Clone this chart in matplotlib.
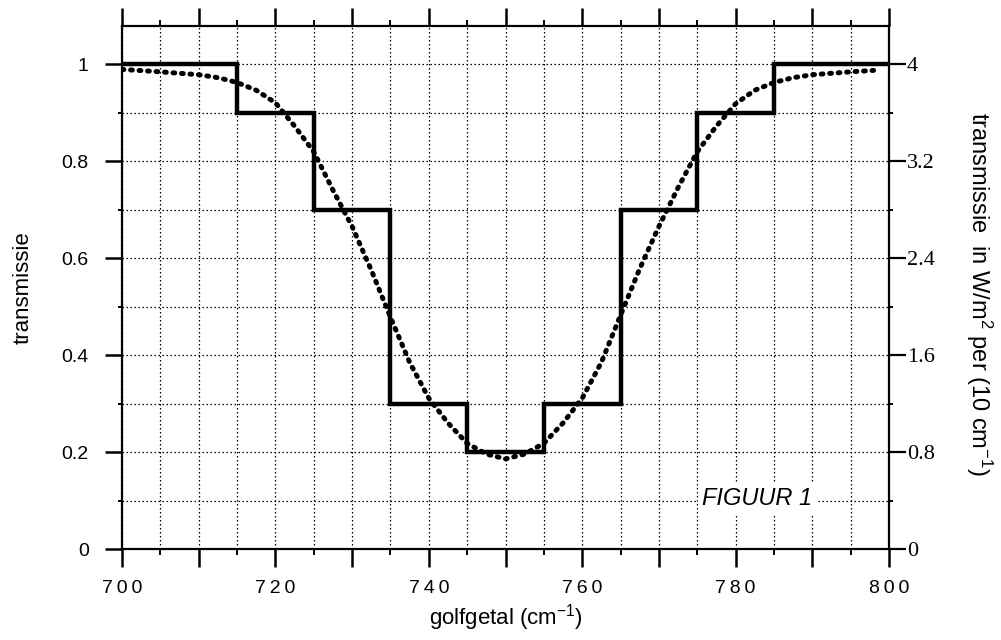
import matplotlib
matplotlib.use("Agg")
import matplotlib.pyplot as plt
from matplotlib.ticker import MultipleLocator

plt.rcParams['font.family'] = ['Liberation Sans', 'DejaVu Sans']
plt.rcParams['mathtext.fontset'] = 'custom'
plt.rcParams['mathtext.rm'] = 'Liberation Sans'
plt.rcParams['mathtext.it'] = 'Liberation Sans:italic'

# step function (band averages)
step_edges = [700, 715, 725, 735, 745, 755, 765, 775, 785, 800]
step_values = [1.0, 0.9, 0.7, 0.3, 0.2, 0.3, 0.7, 0.9, 1.0]

# continuous transmission curve
curve_x = [700, 705, 710, 712.5, 715, 717.5, 720, 722.5, 725, 727.5, 730, 732.5,
           735, 737.5, 740, 742.5, 745, 747.5, 750, 752.5, 755, 757.5, 760,
           762.5, 765, 767.5, 770, 772.5, 775, 777.5, 780, 782.5, 785, 787.5,
           790, 795, 798]
curve_y = [0.989, 0.984, 0.978, 0.972, 0.962, 0.946, 0.920, 0.872, 0.819, 0.740,
           0.665, 0.575, 0.478, 0.385, 0.311, 0.260, 0.218, 0.196, 0.186, 0.196,
           0.218, 0.260, 0.311, 0.385, 0.482, 0.578, 0.665, 0.745, 0.819, 0.872,
           0.918, 0.946, 0.962, 0.972, 0.978, 0.984, 0.987]

x_major_ticks = [700, 710, 720, 730, 740, 750, 760, 770, 780, 790, 800]
x_major_labels = ['7\u20090\u20090', '', '7\u20092\u20090', '', '7\u20094\u20090', '',
                  '7\u20096\u20090', '', '7\u20098\u20090', '', '8\u20090\u20090']
left_ticks = [0, 0.2, 0.4, 0.6, 0.8, 1]
left_labels = ['0', '0.2', '0.4', '0.6', '0.8', '1']
right_ticks = [0, 0.8, 1.6, 2.4, 3.2, 4]
right_labels = ['0', '0.8', '1.6', '2.4', '3.2', '4']

fig = plt.figure(figsize=(10.01, 6.40), dpi=100)
ax = fig.add_axes([0.122, 0.142, 0.766, 0.817])

ax.set_xlim(700, 800)
ax.set_ylim(0, 1.078)

ax.set_xticks(x_major_ticks)
ax.set_xticklabels(x_major_labels, fontfamily='Liberation Sans', fontsize=14)
ax.xaxis.set_minor_locator(MultipleLocator(5))
ax.set_yticks(left_ticks)
ax.set_yticklabels(left_labels, fontfamily='Liberation Sans', fontsize=14)
ax.yaxis.set_minor_locator(MultipleLocator(0.1))
ax.grid(which='both', color='black', linestyle=(0, (1.2, 2.0)), linewidth=0.9)
ax.set_axisbelow(True)

ax.stairs(step_values, step_edges, color='black', linewidth=3.2, baseline=None, zorder=3)
ax.plot(curve_x, curve_y, color='black', linewidth=3.6,
        linestyle=(0, (0.35, 1.35)), dash_capstyle='round', zorder=4)

for s in ax.spines.values():
    s.set_linewidth(1.6)

ax.tick_params(which='major', axis='x', direction='out', length=13, width=1.8,
               top=True, pad=9)
ax.tick_params(which='minor', axis='x', direction='out', length=4, width=1.4, top=True)
ax.tick_params(which='major', axis='y', direction='out', length=12, width=1.8, pad=12)
ax.tick_params(which='minor', axis='y', direction='out', length=3, width=1.4)

ax.set_ylabel('transmissie', fontsize=16, labelpad=20)
ax.set_xlabel('golfgetal (cm$^{-1}$)', fontsize=16, labelpad=4)

ax2 = ax.twinx()
ax2.set_ylim(0, 1.078 * 4)
ax2.set_yticks(right_ticks)
ax2.set_yticklabels(right_labels, fontfamily='Liberation Serif', fontsize=16)
ax2.yaxis.set_minor_locator(MultipleLocator(0.4))
ax2.tick_params(which='major', direction='out', length=12, width=1.6, pad=1)
ax2.tick_params(which='minor', direction='out', length=3, width=1.4)
for s in ax2.spines.values():
    s.set_visible(False)

fig.text(0.978, 0.54, 'transmissie  in W/m$^{2}$ per (10 cm$^{-1}$)', rotation=-90,
         fontsize=17, ha='center', va='center')

ax.text(782.8, 0.105, 'FIGUUR 1', fontsize=17, style='italic', ha='center', va='center',
        bbox=dict(facecolor='white', edgecolor='none', pad=3), zorder=5)

fig.savefig('out.png', dpi=100)
